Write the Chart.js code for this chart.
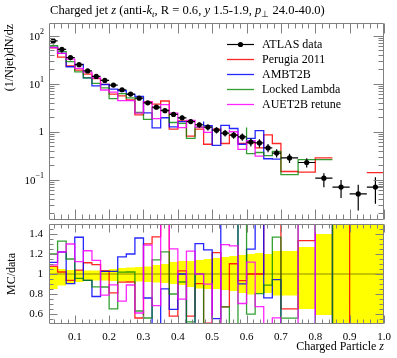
<!DOCTYPE html>
<html lang="en">
<head>
<meta charset="UTF-8">
<title>Charged jet z</title>
<script src="https://cdn.jsdelivr.net/npm/chart.js"></script>
<style>
  html, body { margin: 0; padding: 0; background: #fff; }
  #wrap { position: relative; width: 397px; height: 358px; overflow: hidden; }
  #wrap canvas { position: absolute; left: 0; }
  #main { top: 0; }
  #ratio { top: 224px; }
</style>
</head>
<body>
<div id="wrap">
  <canvas id="main" width="397" height="224"></canvas>
  <canvas id="ratio" width="397" height="134"></canvas>
</div>
<script>
// bin edges in z
const edges = [0.025, 0.05, 0.075, 0.1, 0.125, 0.15, 0.175, 0.2, 0.225, 0.25, 0.275, 0.3, 0.325,
  0.35, 0.375, 0.4, 0.425, 0.45, 0.475, 0.5, 0.525, 0.55, 0.575, 0.6, 0.625, 0.65, 0.675, 0.7,
  0.75, 0.8, 0.85, 0.9, 0.95, 1.0];

// ATLAS data, (1/Njet) dN/dz, with relative up / down uncertainty
const atlasData = [78, 52, 35, 25, 18.5, 14.2, 11.7, 9.4, 7.5, 6.1, 5.0, 4.0, 3.25, 2.75, 2.3,
  1.95, 1.63, 1.4, 1.25, 1.08, 0.94, 0.85, 0.78, 0.61, 0.585, 0.46, 0.36, 0.285, 0.229, 0.108,
  0.0706, 0.0507, 0.0706];
const atlasErrUp = [0.06, 0.07, 0.05, 0.04, 0.035, 0.035, 0.035, 0.04, 0.05, 0.06, 0.065, 0.07,
  0.075, 0.09, 0.10, 0.12, 0.13, 0.13, 0.14, 0.15, 0.16, 0.17, 0.18, 0.19, 0.20, 0.21, 0.20,
  0.23, 0.23, 0.27, 0.40, 0.55, 0.60];
const atlasErrDn = [0.16, 0.15, 0.115, 0.095, 0.08, 0.07, 0.065, 0.065, 0.07, 0.075, 0.075, 0.075,
  0.08, 0.085, 0.09, 0.10, 0.11, 0.13, 0.145, 0.15, 0.15, 0.16, 0.17, 0.19, 0.205, 0.19, 0.19,
  0.215, 0.215, 0.35, 0.41, 0.55, 0.55];

// MC predictions
const perugia2011 = [76.8, 56.0, 35.7, 23.4, 19.2, 15.8, 12.8, 9.68, 6.08, 5.61, 4.6, 2.24, 4.23,
  3.77, 4.37, 1.13, 1.68, 0.81, 1.13, 0.55, 1.14, 0.57, 0.86, 0.57, 0.585, 0.46, 0.86, 0.57,
  0.149, 0.144, 0.285, 0, 0.141];
const ambt2b = [88.9, 58.0, 42.7, 22.6, 25.3, 13.3, 9.07, 9.64, 7.69, 7.14, 6.0, 5.44, 2.47,
  1.21, 1.96, 1.26, 1.63, 0, 1.63, 1.34, 0.52, 1.36, 1.17, 0.55, 0.73, 1.06, 0.274, 0.269,
  0, 0, 0.136, 0, 0];
const lockedLambda = [100.9, 62.4, 46.5, 28.75, 17.7, 13.3, 10.2, 8.18, 4.88, 6.22, 5.1, 2.52,
  1.82, 3.14, 2.81, 1.56, 1.50, 0.73, 1.25, 0, 0, 0.57, 0, 1.22, 0.35, 0.37, 0.32, 0.39,
  0.128, 0.263, 0.263, 0, 0];
const auet2bRetune = [79.6, 56.7, 42.7, 32.5, 20.8, 17.5, 13.3, 7.41, 6.68, 4.45, 4.45, 2.44,
  4.19, 1.88, 3.68, 2.44, 1.22, 1.72, 1.25, 0.97, 0, 1.1, 1.0, 0.43, 0.655, 0.31, 0, 0.16, 0,
  0.46, 0, 0, 0];

const xTicks = [0.1, 0.2, 0.3, 0.4, 0.5, 0.6, 0.7, 0.8, 0.9, 1.0];
const xTickLabels = ['0.1', '0.2', '0.3', '0.4', '0.5', '0.6', '0.7', '0.8', '0.9', '1.0'];
const mainTicks = [0.1, 1, 10, 100];
const mainTickExp = [-1, 0, 1, 2];
const ratioTicks = [0.6, 0.8, 1.0, 1.2, 1.4];
const ratioTickLabels = ['0.6', '0.8', '1', '1.2', '1.4'];

const FONT = '"Liberation Serif", "Times New Roman", serif';
const TICK = '#808080';

const series = [
  { label: 'Perugia 2011', vals: perugia2011, color: 'rgba(255,0,0,0.85)' },
  { label: 'AMBT2B', vals: ambt2b, color: 'rgba(0,0,255,0.85)' },
  { label: 'Locked Lambda', vals: lockedLambda, color: 'rgba(0,135,0,0.8)' },
  { label: 'AUET2B retune', vals: auet2bRetune, color: 'rgba(255,0,255,0.85)' }
];

function stepPoints(vals) {
  const pts = vals.map((v, i) => ({ x: edges[i], y: v }));
  pts.push({ x: edges[edges.length - 1], y: vals[vals.length - 1] });
  return pts;
}

function px(v) { return Math.round(v) + 0.5; }

// frame with inward ticks on all sides
function drawFrame(chart, yMajor, yMinor, majLen, minLen) {
  const { ctx, chartArea: a, scales: { x, y } } = chart;
  const L = a.left + 0.5, R = a.right - 0.5, T = a.top + 0.5, B = a.bottom - 0.5;
  ctx.save();
  ctx.strokeStyle = TICK;
  ctx.lineWidth = 1;
  ctx.beginPath();
  ctx.rect(L, T, R - L, B - T);
  const xt = (v, len) => {
    const p = px(x.getPixelForValue(v));
    ctx.moveTo(p, B); ctx.lineTo(p, B - len);
    ctx.moveTo(p, T); ctx.lineTo(p, T + len);
  };
  const yt = (v, len) => {
    const p = px(y.getPixelForValue(v));
    ctx.moveTo(L, p); ctx.lineTo(L + len, p);
    ctx.moveTo(R, p); ctx.lineTo(R - len, p);
  };
  xTicks.forEach(v => xt(v, majLen));
  for (let k = 2; k <= 50; k++) {
    const v = k * 0.02;
    if (k % 5 !== 0 && v > 0.025 && v < 1) xt(v, minLen);
  }
  yMajor.forEach(v => yt(v, majLen));
  yMinor.forEach(v => yt(v, minLen));
  ctx.stroke();
  ctx.restore();
}

function drawRich(ctx, parts, x, y, size) {
  let cx = x;
  parts.forEach(p => {
    const s = p.sub ? size * 0.7 : size;
    ctx.font = (p.it ? 'italic ' : '') + s + 'px ' + FONT;
    ctx.fillText(p.t, cx, p.sub ? y + size * 0.22 : y);
    cx += ctx.measureText(p.t).width;
  });
  return cx - x;
}

function richWidth(ctx, parts, size) {
  let w = 0;
  parts.forEach(p => {
    const s = p.sub ? size * 0.7 : size;
    ctx.font = (p.it ? 'italic ' : '') + s + 'px ' + FONT;
    w += ctx.measureText(p.t).width;
  });
  return w;
}

const titleParts = [
  { t: 'Charged jet ' }, { t: 'z', it: true }, { t: ' (anti-' }, { t: 'k', it: true },
  { t: 't', it: true, sub: true }, { t: ', R = 0.6, ' }, { t: 'y', it: true },
  { t: ' 1.5-1.9, ' }, { t: 'p', it: true }, { t: '\u22A5', sub: true }, { t: ' 24.0-40.0)' }
];

// main panel decorations
const mainDeco = {
  id: 'mainDeco',
  afterDatasetsDraw(chart) {
    const { ctx, chartArea: a, scales: { x, y } } = chart;
    ctx.save();
    ctx.beginPath();
    ctx.rect(a.left, a.top, a.right - a.left, a.bottom - a.top);
    ctx.clip();
    ctx.strokeStyle = '#000';
    ctx.lineWidth = 1.2;
    ctx.beginPath();
    atlasData.forEach((v, i) => {
      const cx = x.getPixelForValue((edges[i] + edges[i + 1]) / 2);
      const cy = y.getPixelForValue(v);
      ctx.moveTo(cx, y.getPixelForValue(v * (1 + atlasErrUp[i])));
      ctx.lineTo(cx, y.getPixelForValue(Math.max(v * (1 - atlasErrDn[i]), 1e-4)));
      ctx.moveTo(x.getPixelForValue(edges[i]), cy);
      ctx.lineTo(x.getPixelForValue(edges[i + 1]), cy);
    });
    ctx.stroke();
    ctx.restore();
  },
  afterDraw(chart) {
    const { ctx, chartArea: a, scales: { y } } = chart;
    const minors = [];
    for (let e = -2; e <= 2; e++) {
      for (let k = 2; k <= 9; k++) {
        const v = k * Math.pow(10, e);
        if (v > y.min && v < y.max) minors.push(v);
      }
    }
    drawFrame(chart, mainTicks, minors, 10, 5);

    ctx.save();
    ctx.fillStyle = '#000';
    ctx.textBaseline = 'middle';
    mainTicks.forEach((v, i) => {
      const py = y.getPixelForValue(v);
      const e = mainTickExp[i];
      const right = a.left - 5;
      if (e === 0) {
        ctx.font = '11px ' + FONT;
        ctx.textAlign = 'right';
        ctx.fillText('1', right, py);
      } else {
        ctx.textAlign = 'left';
        ctx.font = '8px ' + FONT;
        const es = String(e).replace('-', '\u2212');
        const ew = ctx.measureText(es).width;
        ctx.font = '11px ' + FONT;
        const bw = ctx.measureText('10').width;
        ctx.fillText('10', right - ew - bw, py + 1);
        ctx.font = '8px ' + FONT;
        ctx.fillText(es, right - ew, py - 4);
      }
    });

    // y title
    ctx.save();
    ctx.translate(10, a.top + 1);
    ctx.rotate(-Math.PI / 2);
    ctx.textAlign = 'right';
    ctx.textBaseline = 'middle';
    ctx.font = '12px ' + FONT;
    ctx.fillText('(1/Njet)dN/dz', 0, 0);
    ctx.restore();

    // title, fitted to the frame width used by the reference
    ctx.textAlign = 'left';
    ctx.textBaseline = 'alphabetic';
    const w = richWidth(ctx, titleParts, 11);
    drawRich(ctx, titleParts, a.left + 1, 14, 11 * 275 / w);

    // legend
    const lx0 = 227, lx1 = 254, tx = 262;
    const rows = [{ label: 'ATLAS data', color: '#000' }].concat(series);
    ctx.font = '12px ' + FONT;
    ctx.textBaseline = 'middle';
    rows.forEach((r, i) => {
      const ly = 44.5 + i * 15;
      ctx.strokeStyle = r.color;
      ctx.lineWidth = i === 0 ? 1.2 : 1.3;
      ctx.beginPath();
      ctx.moveTo(lx0, ly); ctx.lineTo(lx1, ly);
      ctx.stroke();
      if (i === 0) {
        ctx.fillStyle = '#000';
        ctx.beginPath();
        ctx.arc((lx0 + lx1) / 2, ly, 2.6, 0, Math.PI * 2);
        ctx.fill();
      }
      ctx.fillStyle = '#000';
      ctx.fillText(r.label, tx, ly + 0.5);
    });
    ctx.restore();
  }
};

// ratio panel decorations
const ratioDeco = {
  id: 'ratioDeco',
  afterDraw(chart) {
    const { ctx, chartArea: a, scales: { x, y } } = chart;
    const minors = [];
    for (let k = 11; k <= 29; k++) {
      if (k % 4 !== 0) minors.push(k * 0.05);
    }
    drawFrame(chart, ratioTicks, minors.filter(v => v > 0.5 && v < 1.5), 8, 4);
    ctx.save();
    ctx.fillStyle = '#000';
    ctx.font = '11px ' + FONT;
    ctx.textBaseline = 'middle';
    ctx.textAlign = 'right';
    ratioTicks.forEach((v, i) => ctx.fillText(ratioTickLabels[i], a.left - 6, y.getPixelForValue(v)));
    ctx.textAlign = 'center';
    xTicks.forEach((v, i) => ctx.fillText(xTickLabels[i], x.getPixelForValue(v), a.bottom + 13));

    ctx.save();
    ctx.translate(12, (a.top + a.bottom) / 2);
    ctx.rotate(-Math.PI / 2);
    ctx.textAlign = 'center';
    ctx.font = '12px ' + FONT;
    ctx.fillText('MC/data', 0, 0);
    ctx.restore();

    ctx.textAlign = 'right';
    ctx.textBaseline = 'alphabetic';
    ctx.font = 'italic 12px ' + FONT;
    const zw = ctx.measureText('z').width;
    ctx.fillText('z', a.right, 126);
    ctx.font = '12px ' + FONT;
    ctx.fillText('Charged Particle ', a.right - zw, 126);
    ctx.restore();
  }
};

const baseOptions = (padding, yScale) => ({
  responsive: false,
  animation: false,
  devicePixelRatio: 1,
  layout: { padding },
  scales: {
    x: { type: 'linear', min: 0.025, max: 1.0, display: false },
    y: Object.assign({ display: false }, yScale)
  },
  plugins: { legend: { display: false }, tooltip: { enabled: false } },
  elements: { line: { tension: 0 }, point: { radius: 0 } }
});

new Chart(document.getElementById('main'), {
  type: 'line',
  data: {
    datasets: [{
      label: 'ATLAS data',
      type: 'scatter',
      data: atlasData.map((v, i) => ({ x: (edges[i] + edges[i + 1]) / 2, y: v })),
      pointRadius: 2.6,
      pointBackgroundColor: '#000',
      pointBorderWidth: 0,
      showLine: false,
      order: 0
    }].concat(series.map((s, k) => ({
      label: s.label,
      data: stepPoints(s.vals),
      stepped: 'after',
      borderColor: s.color,
      borderWidth: 1.3,
      pointRadius: 0,
      fill: false,
      order: 4 - k
    })))
  },
  options: baseOptions({ left: 49, right: 13, top: 23, bottom: 0 },
    { type: 'logarithmic', min: 0.01455, max: 184 }),
  plugins: [mainDeco]
});

new Chart(document.getElementById('ratio'), {
  type: 'line',
  data: {
    datasets: [{
      label: 'band up',
      data: stepPoints(atlasErrUp.map(e => 1 + e)),
      stepped: 'after',
      borderWidth: 0,
      borderColor: 'rgba(0,0,0,0)',
      backgroundColor: '#ffff00',
      fill: '+1',
      order: 20
    }, {
      label: 'band down',
      data: stepPoints(atlasErrDn.map(e => 1 - e)),
      stepped: 'after',
      borderWidth: 0,
      borderColor: 'rgba(0,0,0,0)',
      fill: false,
      order: 21
    }, {
      label: 'unity',
      data: [{ x: 0.025, y: 1 }, { x: 1.0, y: 1 }],
      borderColor: 'rgba(0,0,0,0.45)',
      borderWidth: 1,
      fill: false,
      order: 10
    }].concat(series.map((s, k) => ({
      label: s.label,
      data: stepPoints(s.vals.map((v, i) => v / atlasData[i])),
      stepped: 'after',
      borderColor: s.color,
      borderWidth: 1.3,
      pointRadius: 0,
      fill: false,
      order: 4 - k
    })))
  },
  options: baseOptions({ left: 49, right: 13, top: 0, bottom: 34 },
    { type: 'linear', min: 0.5, max: 1.5 }),
  plugins: [ratioDeco]
});
</script>
</body>
</html>
